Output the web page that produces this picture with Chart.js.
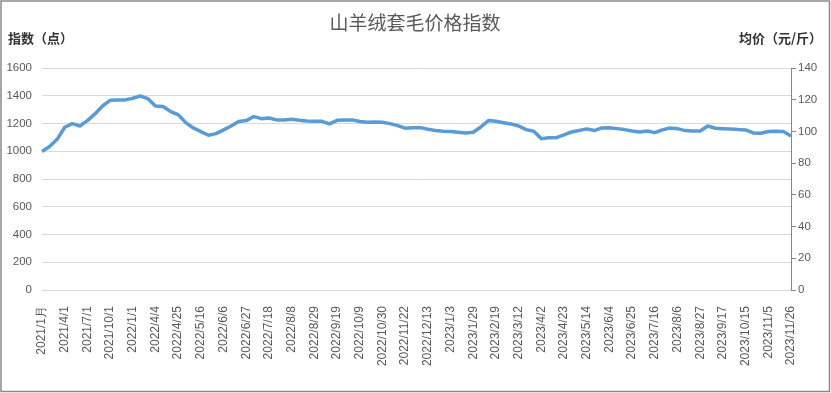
<!DOCTYPE html>
<html>
<head>
<meta charset="utf-8">
<script src="https://cdn.jsdelivr.net/npm/chart.js@4/dist/chart.umd.min.js"></script>
<style>
  html, body { margin: 0; padding: 0; background: #fff; }
  #wrap { width: 831px; height: 393px; position: relative; }
</style>
</head>
<body>
<div id="wrap"><canvas id="c" width="831" height="393"></canvas></div>
<script>
'use strict'

// categories: monthly in 2021, weekly from 2022/4/4; every third one is labelled
const categories = [
  '2021/1月', '2021/2/1', '2021/3/1', '2021/4/1', '2021/5/1', '2021/6/1',
  '2021/7/1', '2021/8/1', '2021/9/1', '2021/10/1', '2021/11/1', '2021/12/1',
  '2022/1/1', '2022/2/1', '2022/3/1', '2022/4/4', '2022/4/11', '2022/4/18',
  '2022/4/25', '2022/5/2', '2022/5/9', '2022/5/16', '2022/5/23', '2022/5/30',
  '2022/6/6', '2022/6/13', '2022/6/20', '2022/6/27', '2022/7/4', '2022/7/11',
  '2022/7/18', '2022/7/25', '2022/8/1', '2022/8/8', '2022/8/15', '2022/8/22',
  '2022/8/29', '2022/9/5', '2022/9/12', '2022/9/19', '2022/9/26', '2022/10/2',
  '2022/10/9', '2022/10/16', '2022/10/23', '2022/10/30', '2022/11/6', '2022/11/13',
  '2022/11/22', '2022/11/29', '2022/12/6', '2022/12/13', '2022/12/20', '2022/12/27',
  '2023/1/3', '2023/1/10', '2023/1/17', '2023/1/29', '2023/2/5', '2023/2/12',
  '2023/2/19', '2023/2/26', '2023/3/5', '2023/3/12', '2023/3/19', '2023/3/26',
  '2023/4/2', '2023/4/9', '2023/4/16', '2023/4/23', '2023/4/30', '2023/5/7',
  '2023/5/14', '2023/5/21', '2023/5/28', '2023/6/4', '2023/6/11', '2023/6/18',
  '2023/6/25', '2023/7/2', '2023/7/9', '2023/7/16', '2023/7/23', '2023/7/30',
  '2023/8/6', '2023/8/13', '2023/8/20', '2023/8/27', '2023/9/3', '2023/9/10',
  '2023/9/17', '2023/9/24', '2023/10/8', '2023/10/15', '2023/10/22', '2023/10/29',
  '2023/11/5', '2023/11/12', '2023/11/19', '2023/11/26'
];

// 山羊绒套毛价格指数 (点)
const indexValues = [
  998, 1034, 1086, 1173, 1199, 1182, 1221, 1269, 1326, 1367,
  1370, 1370, 1382, 1398, 1379, 1326, 1322, 1286, 1264, 1206,
  1168, 1142, 1115, 1127, 1154, 1182, 1214, 1221, 1250, 1235,
  1240, 1226, 1226, 1230, 1223, 1218, 1216, 1216, 1197, 1223,
  1226, 1226, 1214, 1209, 1211, 1209, 1199, 1185, 1166, 1170,
  1170, 1158, 1149, 1144, 1142, 1137, 1132, 1137, 1175, 1221,
  1216, 1206, 1197, 1182, 1156, 1144, 1091, 1098, 1098, 1118,
  1139, 1149, 1161, 1149, 1168, 1170, 1163, 1156, 1146, 1139,
  1146, 1134, 1154, 1168, 1163, 1149, 1146, 1146, 1182, 1166,
  1163, 1161, 1156, 1154, 1132, 1130, 1142, 1144, 1142, 1110
];

const leftTicks = [0, 200, 400, 600, 800, 1000, 1200, 1400, 1600];
const rightTicks = [0, 20, 40, 60, 80, 100, 120, 140];
const LABEL_EVERY = 3;

const TITLE = '山羊绒套毛价格指数';
const LEFT_TITLE = '指数（点）';
const RIGHT_TITLE = '均价（元/斤）';

const TEXT_COLOR = '#595959';
const NUM_FONT = '"Liberation Sans", Arial, sans-serif';
const CJK_FONT = '"Noto Sans CJK SC", sans-serif';

// frame, background and the three header texts
const frameAndTitles = {
  id: 'frameAndTitles',
  beforeDraw(chart) {
    const ctx = chart.ctx;
    ctx.save();
    ctx.fillStyle = '#ffffff';
    ctx.fillRect(0, 0, chart.width, chart.height);
    ctx.restore();
  },
  afterDraw(chart) {
    const ctx = chart.ctx;
    ctx.save();
    ctx.strokeStyle = '#8a8a8a';
    ctx.lineWidth = 1.5;
    ctx.strokeRect(1, 1, chart.width - 2.5, chart.height - 2.5);

    ctx.fillStyle = TEXT_COLOR;
    ctx.textBaseline = 'middle';
    ctx.textAlign = 'center';
    ctx.font = '19px ' + CJK_FONT;
    ctx.fillText(TITLE, 415, 23);

    ctx.fillStyle = '#333333';
    ctx.font = 'bold 13px ' + CJK_FONT;
    ctx.textAlign = 'left';
    ctx.fillText(LEFT_TITLE, 8, 38);
    ctx.textAlign = 'right';
    ctx.fillText(RIGHT_TITLE, 822, 38);
    ctx.restore();
  }
};

const plainNumber = (value) => String(value);

const ctx = document.getElementById('c').getContext('2d');
new Chart(ctx, {
  type: 'line',
  data: {
    labels: categories,
    datasets: [{
      label: TITLE,
      data: indexValues,
      yAxisID: 'y',
      borderColor: '#5b9bd5',
      borderWidth: 3.5,
      borderJoinStyle: 'round',
      pointRadius: 0,
      tension: 0,
      fill: false
    }]
  },
  options: {
    responsive: false,
    animation: false,
    layout: { padding: { top: 68, left: 0, right: 0, bottom: 0 } },
    plugins: {
      legend: { display: false },
      title: { display: false },
      tooltip: { enabled: false }
    },
    scales: {
      x: {
        type: 'category',
        offset: false,
        grid: { display: false },
        border: { display: false },
        ticks: {
          autoSkip: false,
          maxRotation: 90,
          minRotation: 90,
          padding: 8,
          color: TEXT_COLOR,
          font: { size: 12, family: NUM_FONT },
          callback: (value, index) => (index % LABEL_EVERY === 0 ? categories[index] : '')
        },
        afterFit: (scale) => { scale.height = 103; }
      },
      y: {
        position: 'left',
        min: leftTicks[0],
        max: leftTicks[leftTicks.length - 1],
        afterBuildTicks: (scale) => { scale.ticks = leftTicks.map(v => ({ value: v })); },
        grid: { color: '#d9d9d9', lineWidth: 1, drawTicks: false },
        border: { display: false },
        ticks: { padding: 10, color: TEXT_COLOR, font: { size: 11.5, family: NUM_FONT }, callback: plainNumber },
        afterFit: (scale) => { scale.width = 42; }
      },
      y1: {
        position: 'right',
        min: rightTicks[0],
        max: rightTicks[rightTicks.length - 1],
        afterBuildTicks: (scale) => { scale.ticks = rightTicks.map(v => ({ value: v })); },
        grid: { drawOnChartArea: false, color: '#868686', tickLength: 5 },
        border: { display: true, color: '#868686', width: 1 },
        ticks: { padding: 2, color: TEXT_COLOR, font: { size: 11.5, family: NUM_FONT }, callback: plainNumber },
        afterFit: (scale) => { scale.width = 40; }
      }
    }
  },
  plugins: [frameAndTitles]
});
</script>
</body>
</html>
